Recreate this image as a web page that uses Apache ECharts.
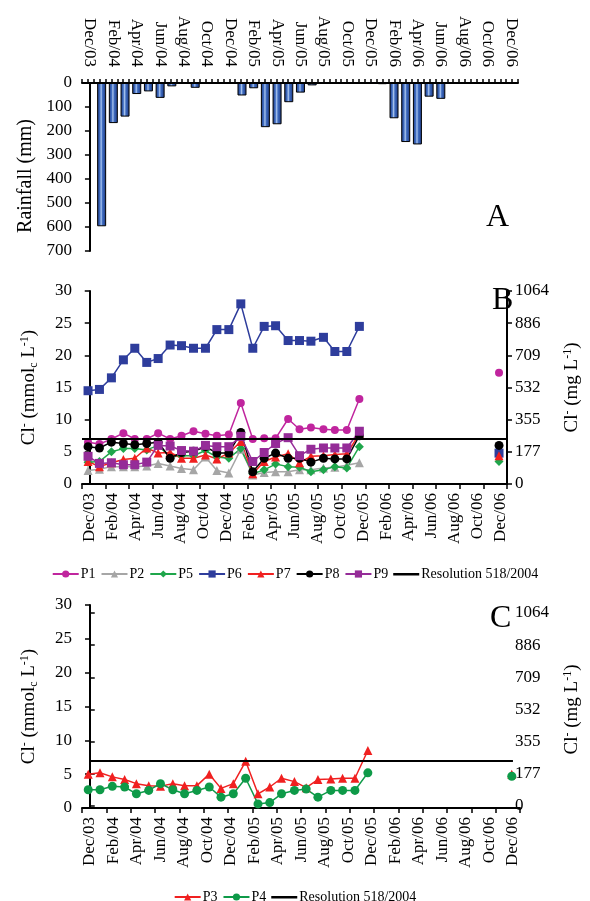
<!DOCTYPE html>
<html><head><meta charset="utf-8">
<script src="https://cdn.jsdelivr.net/npm/echarts@6/dist/echarts.min.js"></script>
<style>html,body{margin:0;padding:0;background:#fff}#c{width:590px;height:901px}</style>
</head><body><div id="c"></div>
<script>
// ---- data ----
const tickLabels = ['Dec/03','Feb/04','Apr/04','Jun/04','Aug/04','Oct/04','Dec/04','Feb/05','Apr/05','Jun/05','Aug/05','Oct/05','Dec/05','Feb/06','Apr/06','Jun/06','Aug/06','Oct/06','Dec/06'];
const tickMonths = [0,2,4,6,8,10,12,14,16,18,20,22,24,26,28,30,32,34,36];
// monthly rainfall (mm), Dec/03 .. Dec/06 (null = no bar)
const rainfall = [null,597,167,140,46,35,62,14,null,20,null,null,null,52,22,184,172,80,40,10,null,null,null,null,null,5,147,246,256,57,66,null,null,null,null,null,null];
// sampling time (months after Dec/03)
const sampleMonth = [-0.15,0.85,1.9,2.95,3.95,5.0,6.0,7.05,8.05,9.1,10.15,11.15,12.2,13.25,14.3,15.3,16.3,17.4,18.4,19.4,20.5,21.5,22.55,23.65];
const lastMonth = 35.9;
const P1 = [6.5,6.2,7.0,7.9,7.0,7.0,7.9,7.0,7.5,8.2,7.8,7.5,7.7,12.6,7.0,7.1,7.1,10.1,8.5,8.8,8.5,8.4,8.4,13.2];
const P2 = [2.1,2.3,2.7,2.7,2.7,2.8,3.2,2.8,2.4,2.2,4.2,2.1,1.7,5.4,1.4,1.8,1.9,1.9,2.2,2.2,2.5,2.6,2.9,3.3];
const P5 = [3.4,3.5,5.0,5.5,5.5,5.3,6.0,4.2,4.4,4.4,5.2,4.2,4.0,5.5,1.6,2.2,3.1,2.7,2.6,1.9,2.2,2.7,2.5,5.8];
const P6 = [14.5,14.7,16.5,19.3,21.1,18.9,19.5,21.6,21.5,21.1,21.1,24.0,24.0,28.0,21.1,24.5,24.6,22.3,22.3,22.2,22.8,20.6,20.6,24.5];
const P7 = [3.5,2.7,3.3,3.8,4.0,5.6,4.8,4.9,4.0,4.0,4.5,3.9,4.8,6.6,1.6,3.5,4.2,4.7,3.3,4.3,4.4,4.6,4.7,7.8];
const P8 = [5.8,5.6,6.5,6.3,6.1,6.3,6.5,4.0,4.9,5.1,5.8,4.8,4.8,8.0,1.9,4.0,4.8,4.0,4.0,3.4,4.0,3.9,3.9,7.5];
const P9 = [4.3,3.2,3.3,3.0,3.0,3.4,6.0,5.9,5.2,5.1,6.0,5.8,5.8,7.4,3.5,4.9,6.3,7.2,4.4,5.4,5.6,5.6,5.6,8.2];
const lastB = {P1:17.3, P2:null, P5:3.5, P6:4.8, P7:4.4, P8:6.0, P9:null};
const P3 = [5.0,5.2,4.6,4.2,3.6,3.3,3.2,3.6,3.3,3.3,5.0,2.9,3.6,6.9,2.1,3.1,4.4,3.9,3.0,4.2,4.3,4.4,4.4,8.5];
const P4 = [2.7,2.7,3.2,3.1,2.1,2.6,3.6,2.7,2.1,2.6,3.1,1.6,2.1,4.4,0.6,0.8,2.1,2.6,2.8,1.6,2.6,2.6,2.6,5.2];
const lastC = {P3:5.0, P4:4.7};
const mmolTicks = [0,5,10,15,20,25,30];
const mgTicks = ['0','177','355','532','709','886','1064'];
const resolutionLimit = 7;

// ---- chart ----
const FONT = '"Liberation Serif","Times New Roman",serif';
const XMIN = -0.68, XMAX = 36.6;
const black = '#000';

function mainX(grid, pos, margin, showLabel) {
  return {
    type: 'value', gridIndex: grid, position: pos, min: XMIN, max: XMAX,
    axisLine: {show: true, onZero: false, lineStyle: {color: black, width: 2}},
    axisTick: {show: false}, splitLine: {show: false},
    axisLabel: {show: showLabel, rotate: 90, margin: margin, fontFamily: FONT, fontSize: 17, color: black,
      customValues: tickMonths,
      formatter: v => tickLabels[tickMonths.indexOf(Math.round(v))] || ''}
  };
}
function tickX(grid, pos, n, len) {
  return {
    type: 'category', gridIndex: grid, position: pos, data: Array(n).fill(''), boundaryGap: true,
    axisLine: {show: false}, axisLabel: {show: false}, splitLine: {show: false},
    axisTick: {show: true, interval: 0, length: len, lineStyle: {color: black, width: 1.5}}
  };
}
const nameRich = {
  t: {fontFamily: FONT, fontSize: 19, color: black},
  sup: {fontFamily: FONT, fontSize: 12, color: black, verticalAlign: 'top', padding: [0,0,9,0]},
  sub: {fontFamily: FONT, fontSize: 12, color: black, verticalAlign: 'bottom', padding: [9,0,0,0]}
};
const leftName = '{t|Cl}{sup|-}{t| (mmol}{sub|c}{t| L}{sup|-1}{t|)}';
const rightName = '{t|Cl}{sup|-}{t| (mg L}{sup|-1}{t|)}';
function yLeft(grid, name) {
  return {
    type: 'value', gridIndex: grid, min: 0, max: 30, interval: 5, position: 'left',
    axisLine: {show: true, lineStyle: {color: black, width: 2}},
    axisTick: {show: true, length: 5, lineStyle: {color: black, width: 1.5}},
    splitLine: {show: false},
    axisLabel: {fontFamily: FONT, fontSize: 17, color: black, margin: 10},
    name: name, nameLocation: 'middle', nameRotate: 90, nameGap: 42,
    nameTextStyle: {rich: nameRich}
  };
}
function yRight(grid, name) {
  return {
    type: 'value', gridIndex: grid, min: 0, max: 30, interval: 5, position: 'right',
    axisLine: {show: true, lineStyle: {color: black, width: 2}},
    axisTick: {show: true, length: 5, lineStyle: {color: black, width: 1.5}},
    splitLine: {show: false},
    axisLabel: {fontFamily: FONT, fontSize: 17, color: black, margin: 8,
      formatter: v => mgTicks[mmolTicks.indexOf(v)]},
    name: name, nameLocation: 'middle', nameRotate: 90, nameGap: 55,
    nameTextStyle: {rich: nameRich}
  };
}

function lineData(vals, last) {
  const d = vals.map((v, i) => [sampleMonth[i], v]);
  if (last != null) { d.push([30, '-']); d.push([lastMonth, last]); }
  return d;
}
const styles = {
  P1: {color: '#c0259e', symbol: 'circle', size: 8},
  P2: {color: '#a6a6a6', symbol: 'triangle', size: 9},
  P5: {color: '#1fa64b', symbol: 'diamond', size: 9},
  P6: {color: '#2e3d9c', symbol: 'rect', size: 9},
  P7: {color: '#f02020', symbol: 'triangle', size: 9},
  P8: {color: '#000000', symbol: 'circle', size: 9},
  P9: {color: '#952c98', symbol: 'rect', size: 9},
  P3: {color: '#f02020', symbol: 'triangle', size: 9},
  P4: {color: '#0e9a48', symbol: 'circle', size: 9}
};
function lineSeries(name, vals, last, xi, yi) {
  const s = styles[name];
  return {
    type: 'line', name: name, xAxisIndex: xi, yAxisIndex: yi, data: lineData(vals, last),
    symbol: s.symbol, symbolSize: s.size, showAllSymbol: true, connectNulls: false,
    color: s.color, lineStyle: {color: s.color, width: 1.5}, itemStyle: {color: s.color},
    animation: false, z: 3
  };
}
function resolutionSeries(xi, yi, markData) {
  return {
    type: 'line', name: 'Resolution 518/2004', xAxisIndex: xi, yAxisIndex: yi, data: [],
    symbol: 'none', color: black, lineStyle: {color: black, width: 3}, animation: false,
    markLine: {symbol: 'none', silent: true, label: {show: false}, animation: false,
      lineStyle: {color: black, width: 2, type: 'solid'}, data: markData}
  };
}

const series = [
  {
    type: 'bar', name: 'Rainfall', xAxisIndex: 0, yAxisIndex: 0, barWidth: 9,
    data: rainfall.map((v, i) => v == null ? null : [i, v]).filter(d => d),
    itemStyle: {
      color: new echarts.graphic.LinearGradient(0, 0, 1, 0, [
        {offset: 0, color: '#1a3580'}, {offset: 0.3, color: '#3f6cc0'},
        {offset: 0.45, color: '#a9c4ee'}, {offset: 0.6, color: '#3f6cc0'}, {offset: 1, color: '#1a3580'}]),
      borderColor: black, borderWidth: 1
    },
    animation: false
  },
  lineSeries('P1', P1, lastB.P1, 2, 1),
  lineSeries('P2', P2, lastB.P2, 2, 1),
  lineSeries('P5', P5, lastB.P5, 2, 1),
  lineSeries('P6', P6, lastB.P6, 2, 1),
  lineSeries('P7', P7, lastB.P7, 2, 1),
  lineSeries('P8', P8, lastB.P8, 2, 1),
  lineSeries('P9', P9, lastB.P9, 2, 1),
  resolutionSeries(2, 1, [{yAxis: resolutionLimit}]),
  lineSeries('P3', P3, lastC.P3, 4, 3),
  lineSeries('P4', P4, lastC.P4, 4, 3),
  resolutionSeries(4, 3, [[{coord: [tickMonths[0], resolutionLimit]}, {coord: [tickMonths[tickMonths.length - 1], resolutionLimit]}]])
];

const lineIcon = 'path://M0,0L0.05,0L0,0.05Z M0,3.4L26,3.4L26,6L0,6Z M26,9L25.95,9L26,8.95Z';
const legendText = {fontFamily: FONT, fontSize: 14, color: black, padding: [0, 0, 0, -3]};
const option = {
  backgroundColor: '#fff',
  animation: false,
  grid: [
    {left: 82, right: 72, top: 83, bottom: 650},
    {left: 82, right: 70, top: 291, bottom: 417},
    {left: 82, right: 70, top: 605, bottom: 93},
    {left: 82, right: 70, top: 613, bottom: 95}
  ],
  xAxis: [
    mainX(0, 'top', 16, true),
    tickX(0, 'top', 74, 4),
    mainX(1, 'bottom', 9, true),
    tickX(1, 'bottom', 18, 5),
    mainX(2, 'bottom', 9, true),
    tickX(2, 'bottom', 18, 5),
    Object.assign(mainX(3, 'bottom', 9, false), {show: false})
  ],
  yAxis: [
    {
      type: 'value', gridIndex: 0, inverse: true, min: 0, max: 700, interval: 100,
      axisLine: {show: true, lineStyle: {color: black, width: 2}},
      axisTick: {show: true, length: 5, lineStyle: {color: black, width: 1.5}},
      splitLine: {show: false},
      axisLabel: {fontFamily: FONT, fontSize: 17, color: black, margin: 10},
      name: 'Rainfall (mm)', nameLocation: 'middle', nameRotate: 90, nameGap: 46,
      nameTextStyle: {fontFamily: FONT, fontSize: 20, color: black, padding: [0, 0, 0, -18]}
    },
    yLeft(1, leftName),
    yRight(1, rightName),
    yLeft(2, leftName),
    yRight(3, rightName)
  ],
  legend: [
    {data: ['P1','P2','P5','P6','P7','P8','P9',{name: 'Resolution 518/2004', icon: lineIcon}],
      left: 'center', top: 562, itemWidth: 26, itemHeight: 9, itemGap: 5, textStyle: legendText},
    {data: ['P3','P4',{name: 'Resolution 518/2004', icon: lineIcon}],
      left: 'center', top: 885, itemWidth: 26, itemHeight: 9, itemGap: 5, textStyle: legendText}
  ],
  graphic: [
    {type: 'text', left: 486, top: 202, style: {text: 'A', font: '32px "Liberation Serif"', fill: black}},
    {type: 'text', left: 492, top: 285, style: {text: 'B', font: '32px "Liberation Serif"', fill: black}},
    {type: 'text', left: 490, top: 603, style: {text: 'C', font: '32px "Liberation Serif"', fill: black}}
  ],
  series: series
};
const chart = echarts.init(document.getElementById('c'), null, {renderer: 'canvas'});
chart.setOption(option);
</script>
</body></html>
